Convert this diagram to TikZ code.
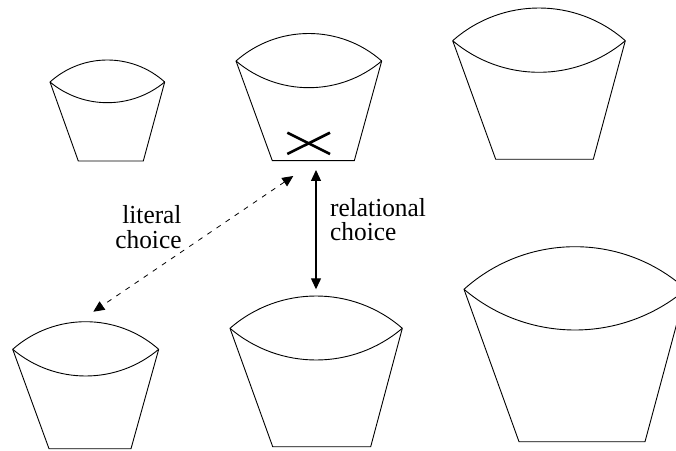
\documentclass[tikz,border=0pt]{standalone}
\usepackage{fontspec}
\usepackage{graphicx}
\setmainfont{Liberation Serif}
\usetikzlibrary{arrows.meta}
\newcommand\drawcup[9]{%
 % #1 name, #2 xl, #3 xr, #4 corner y, #5 top apex y, #6 lower apex y, #7 bottom xl, #8 bottom xr, #9 bottom y (image px)
 \pgfmathsetmacro\cupW{(#3-#2)/2}%
 \pgfmathsetmacro\cupST{#4-#5}%
 \pgfmathsetmacro\cupSL{#6-#4}%
 \pgfmathsetmacro\cupRT{(\cupW*(\cupW/\cupST)+\cupST)/2}%
 \pgfmathsetmacro\cupRL{(\cupW*(\cupW/\cupSL)+\cupSL)/2}%
 \pgfmathsetmacro\cupAT{asin(\cupW/\cupRT)}%
 \pgfmathsetmacro\cupAL{asin(\cupW/\cupRL)}%
 \coordinate (#1-l) at (#2,450-#4);
 \coordinate (#1-r) at (#3,450-#4);
 \coordinate (#1-bl) at (#7,450-#9);
 \coordinate (#1-br) at (#8,450-#9);
 \draw[cupline] (#1-l) arc[start angle=90+\cupAT, end angle=90-\cupAT, radius=\cupRT pt];
 \draw[cupline] (#1-l) arc[start angle=270-\cupAL, end angle=270+\cupAL, radius=\cupRL pt];
 \draw[cupline] (#1-l) -- (#1-bl) -- (#1-br) -- (#1-r);
}
\newcommand\wtxt[1]{\scalebox{0.975}[1]{#1}}
\tikzset{
 cupline/.style={line width=0.9pt, line join=miter},
 relarrow/.style={line width=1.2pt, {Triangle[length=11pt,width=10pt]}-{Triangle[length=11pt,width=10pt]}},
 litarrow/.style={line width=0.8pt, dash pattern=on 5pt off 6pt, {Triangle[length=11pt,width=10pt]}-{Triangle[length=11pt,width=10pt]}},
 crossline/.style={line width=2.6pt},
 lbl/.style={inner sep=0pt, font=\fontsize{26}{24}\selectfont}
}
\begin{document}
\begin{tikzpicture}[x=1pt,y=1pt]
\useasboundingbox (0,0) rectangle (676,450);
\fill[white] (0,0) rectangle (676,450);
\clip (0,0) rectangle (676,450);
\drawcup{cupA}{50}{164.7}{82}{60}{102.7}{78.3}{143.3}{161}
\drawcup{cupB}{236}{381.7}{61}{33.5}{87.7}{272.3}{354.3}{160.7}
\drawcup{cupC}{452.7}{625.3}{40.7}{8}{72.3}{495.7}{593.3}{159.3}
\drawcup{cupD}{12.7}{158.7}{349.3}{321.7}{376}{49}{131}{448.7}
\drawcup{cupE}{230}{402.3}{328.3}{296}{360}{272.7}{370.7}{446.7}
\drawcup{cupF}{464}{686}{289.3}{246.7}{330}{519}{645}{441.7}
% cross in cup B
\coordinate (xa) at (287.3,450-132.7);
\coordinate (xb) at (330,450-154);
\coordinate (xc) at (287.3,450-154);
\coordinate (xd) at (330,450-132.7);
\draw[crossline] (xa) -- (xb);
\draw[crossline] (xc) -- (xd);
% arrow ends
\coordinate (relTop) at (316,450-170);
\coordinate (relBot) at (316,450-289.3);
\coordinate (litTop) at (293.3,450-176);
\coordinate (litBot) at (93.3,450-311.7);
\draw[relarrow] (relTop) -- (relBot);
\draw[litarrow] (litTop) -- (litBot);
% labels (base anchor = baseline of last line)
\node[lbl, anchor=base west, align=left] (relLbl) at (330,450-241) {\wtxt{relational}\\\wtxt{choice}};
\node[lbl, anchor=base east, align=right] (litLbl) at (181.7,450-248) {\wtxt{literal}\\\wtxt{choice}};
\end{tikzpicture}
\end{document}
